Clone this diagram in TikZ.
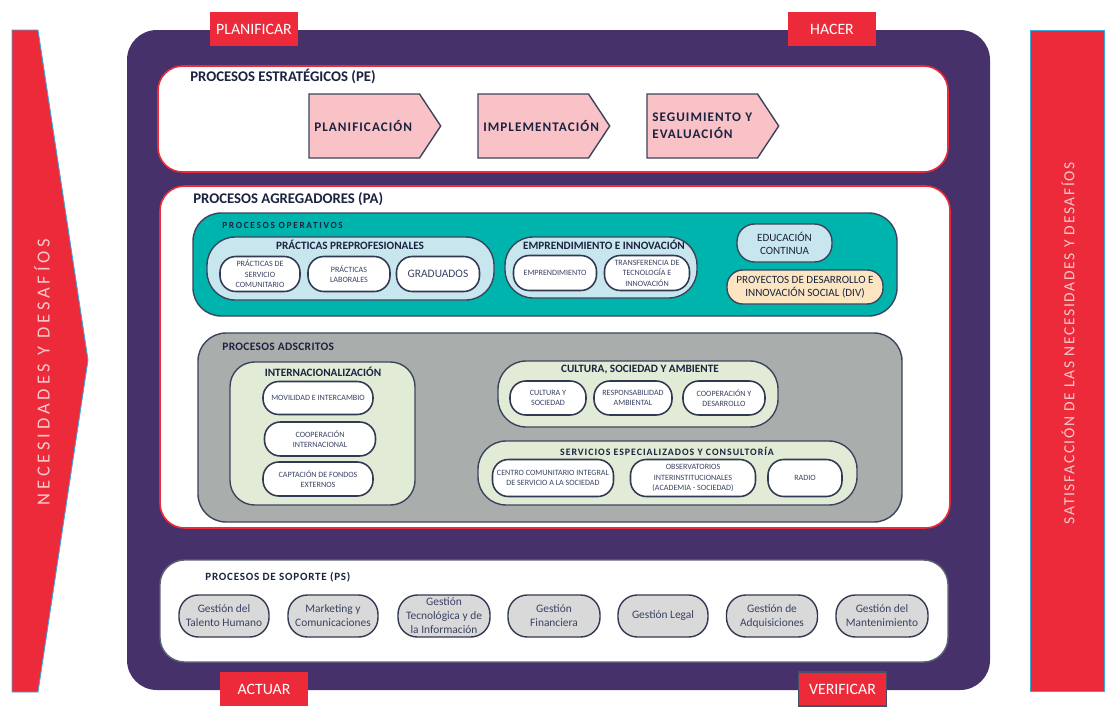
\documentclass[tikz,border=0pt]{standalone}
\usepackage{fontspec}
\setmainfont{Carlito}
\usetikzlibrary{shapes.symbols}

\definecolor{pdcared}{HTML}{ED2A3A}
\definecolor{pdcapurple}{HTML}{46316B}
\definecolor{opteal}{HTML}{00B4AE}
\definecolor{oplight}{HTML}{C8E6EE}
\definecolor{divpeach}{HTML}{FCE6C2}
\definecolor{adgray}{HTML}{A9ADAB}
\definecolor{adgreen}{HTML}{E1EBD6}
\definecolor{chevpink}{HTML}{F8C2C7}
\definecolor{psgray}{HTML}{D9D9D9}
\definecolor{ink}{HTML}{1B2340}
\definecolor{pillink}{HTML}{3A4262}
\definecolor{bannertext}{HTML}{F6C9CE}
\definecolor{bannerline}{HTML}{3AA8DC}

\tikzset{
  wh/.style 2 args={minimum width=#1*0.02cm, minimum height=#2*0.02cm},
  frame/.style={draw=pdcared, line width=0.9pt, fill=white, rounded corners=14pt, inner sep=0pt, outer sep=0pt},
  group/.style={draw=ink!85, line width=0.8pt, rounded corners=16pt, inner sep=0pt, outer sep=0pt},
  pill/.style={draw=ink!90, line width=0.9pt, fill=white, rounded corners=9pt, align=center, inner sep=1pt,
    font=\fontsize{4.6}{6}\selectfont, text=pillink},
  gpill/.style={draw=ink!90, line width=0.8pt, fill=psgray, rounded corners=11pt, align=center, inner sep=1pt,
    font=\fontsize{6.5}{8}\selectfont, text=pillink},
  bigtitle/.style={anchor=west, inner sep=0pt, text=ink, font=\fontsize{8.4}{10}\selectfont\bfseries},
  subtitle/.style={inner sep=0pt, text=ink, font=\fontsize{6.4}{7.5}\selectfont\bfseries},
  chev/.style={shape=signal, signal to=east, signal from=nowhere, signal pointer angle=113, anchor=west,
    draw=ink!85, line width=0.8pt, fill=chevpink, inner xsep=3pt, outer sep=0pt, text width=2.0cm, align=left, text=ink,
    font=\fontsize{7.5}{9.6}\selectfont\bfseries\addfontfeature{LetterSpace=8}},
  pdca/.style={fill=pdcared, text=white, inner sep=0pt, wh={88}{34}, font=\fontsize{9}{10}\selectfont}
}

\begin{document}
\begin{tikzpicture}[x=0.02cm,y=-0.02cm]
  \useasboundingbox (0,0) rectangle (1112,710);

  % side banners
  \fill[pdcared, draw=bannerline, line width=0.5pt] (12,30) -- (38,30) -- (88,360) -- (38,692) -- (12,692) -- cycle;
  \node[rotate=90, text=bannertext, font=\fontsize{10.5}{12}\selectfont\addfontfeature{LetterSpace=21}] (need) at (42,372) {NECESIDADES Y DESAFÍOS};
  \node[fill=pdcared, draw=bannerline, line width=0.5pt, wh={74}{661}, inner sep=0pt] (satbox) at (1067,360.5) {};
  \node[rotate=90, text=bannertext, font=\fontsize{8.8}{10}\selectfont\addfontfeature{LetterSpace=11}] (sat) at (1068,343) {SATISFACCIÓN DE LAS NECESIDADES Y DESAFÍOS};

  % main frame
  \node[fill=pdcapurple, rounded corners=17pt, wh={863}{660}, inner sep=0pt] (main) at (558.5,360) {};
  \node[pdca] (plan) at (254,29) {PLANIFICAR};
  \node[pdca] (hacer) at (832,29) {HACER};
  \node[pdca] (actuar) at (264,689) {ACTUAR};
  \node[pdca, draw=ink!80, line width=0.8pt] (verif) at (842.5,689) {VERIFICAR};

  % procesos estrategicos
  \node[frame, wh={790}{106}] (pe) at (553,119) {};
  \node[bigtitle] (petitle) at (190,76) {PROCESOS ESTRATÉGICOS (PE)};
  \node[chev, wh={104}{64}] (planif) at (309,126) {PLANIFICACIÓN};
  \node[chev, wh={104}{64}] (implem) at (478,126) {IMPLEMENTACIÓN};
  \node[chev, wh={101}{64}] (seguim) at (647,126) {SEGUIMIENTO Y\\EVALUACIÓN};

  % procesos agregadores
  \node[frame, wh={790}{342}] (pa) at (555,357) {};
  \node[bigtitle] (patitle) at (193,199) {PROCESOS AGREGADORES (PA)};

  % operativos
  \node[group, fill=opteal, wh={704}{103}] (oper) at (545,264.5) {};
  \node[anchor=west, inner sep=0pt, text=ink, font=\fontsize{5.3}{6}\selectfont\bfseries\addfontfeature{LetterSpace=18}] (opertitle) at (222,225) {PROCESOS OPERATIVOS};
  \node[group, fill=oplight, wh={287}{63}] (pract) at (350.5,268.5) {};
  \node[subtitle] (practtitle) at (350,245) {PRÁCTICAS PREPROFESIONALES};
  \node[pill, wh={80}{35}] (pserv) at (260,274) {PRÁCTICAS DE\\SERVICIO\\COMUNITARIO};
  \node[pill, wh={82}{35}] (plab) at (349,274) {PRÁCTICAS\\LABORALES};
  \node[pill, wh={83}{35}, font=\fontsize{6.5}{8}\selectfont] (pgrad) at (438,274) {GRADUADOS};
  \node[group, fill=oplight, wh={192}{61}] (empr) at (601,267.5) {};
  \node[subtitle] (emprtitle) at (604,245) {EMPRENDIMIENTO E INNOVACIÓN};
  \node[pill, wh={83}{35}] (pemp) at (555,273) {EMPRENDIMIENTO};
  \node[pill, wh={85}{35}] (ptrans) at (647,273) {TRANSFERENCIA DE\\TECNOLOGÍA E\\INNOVACIÓN};
  \node[group, fill=oplight, rounded corners=10pt, wh={95}{38}, align=center, text=ink, font=\fontsize{6.3}{7.4}\selectfont] (educ) at (784.5,243) {EDUCACIÓN\\CONTINUA};
  \node[group, fill=divpeach, rounded corners=9pt, wh={156}{34}, align=center, text=ink, font=\fontsize{6.3}{7.4}\selectfont] (div) at (805,287) {PROYECTOS DE DESARROLLO E\\INNOVACIÓN SOCIAL (DIV)};

  % adscritos
  \node[group, fill=adgray, wh={704}{189}] (adsc) at (550,427.5) {};
  \node[anchor=west, inner sep=0pt, text=ink, font=\fontsize{6.5}{7.5}\selectfont\bfseries\addfontfeature{LetterSpace=3}] (adsctitle) at (222,347) {PROCESOS ADSCRITOS};
  \node[group, fill=adgreen, rounded corners=14pt, wh={185}{143}] (inter) at (322.5,433.5) {};
  \node[subtitle] (intertitle) at (323,372) {INTERNACIONALIZACIÓN};
  \node[pill, wh={110}{33}] (imov) at (318,398) {MOVILIDAD E INTERCAMBIO};
  \node[pill, wh={111}{34}] (icoop) at (320,439) {COOPERACIÓN\\INTERNACIONAL};
  \node[pill, wh={110}{34}] (icapt) at (318,479) {CAPTACIÓN DE FONDOS\\EXTERNOS};
  \node[group, fill=adgreen, wh={280}{66}] (cult) at (638,394) {};
  \node[subtitle] (culttitle) at (640,370) {CULTURA, SOCIEDAD Y AMBIENTE};
  \node[pill, wh={76}{34}] (ccult) at (548,398) {CULTURA Y\\SOCIEDAD};
  \node[pill, wh={78}{34}] (cresp) at (633,398) {RESPONSABILIDAD\\AMBIENTAL};
  \node[pill, wh={82}{34}] (ccoop) at (724,398) {COOPERACIÓN Y\\DESARROLLO};
  \node[group, fill=adgreen, wh={379}{64}] (serv) at (667.5,473) {};
  \node[subtitle, font=\fontsize{5.6}{7}\selectfont\bfseries\addfontfeature{LetterSpace=10}] (servtitle) at (667,451) {SERVICIOS ESPECIALIZADOS Y CONSULTORÍA};
  \node[pill, wh={121}{37}] (scentro) at (553,478) {CENTRO COMUNITARIO INTEGRAL\\DE SERVICIO A LA SOCIEDAD};
  \node[pill, wh={125}{37}] (sobs) at (693,478) {OBSERVATORIOS\\INTERINSTITUCIONALES\\(ACADEMIA - SOCIEDAD)};
  \node[pill, wh={74}{37}] (sradio) at (805,478) {RADIO};

  % procesos de soporte
  \node[frame, draw=ink!70, line width=0.8pt, wh={788}{102}] (ps) at (554,611) {};
  \node[anchor=west, inner sep=0pt, text=ink, font=\fontsize{6.3}{7.5}\selectfont\bfseries\addfontfeature{LetterSpace=7}] (pstitle) at (205,577) {PROCESOS DE SOPORTE (PS)};
  \node[gpill, wh={90}{42}] (talento) at (224,616) {Gestión del\\Talento Humano};
  \node[gpill, wh={90}{42}] (market) at (333,616) {Marketing y\\Comunicaciones};
  \node[gpill, wh={92}{42}] (tecno) at (444,616) {Gestión\\Tecnológica y de\\la Información};
  \node[gpill, wh={92}{42}] (finan) at (554,616) {Gestión\\Financiera};
  \node[gpill, wh={90}{42}] (legal) at (663,616) {Gestión Legal};
  \node[gpill, wh={91}{42}] (adqui) at (772,616) {Gestión de\\Adquisiciones};
  \node[gpill, wh={92}{42}] (mante) at (882,616) {Gestión del\\Mantenimiento};
\end{tikzpicture}
\end{document}
